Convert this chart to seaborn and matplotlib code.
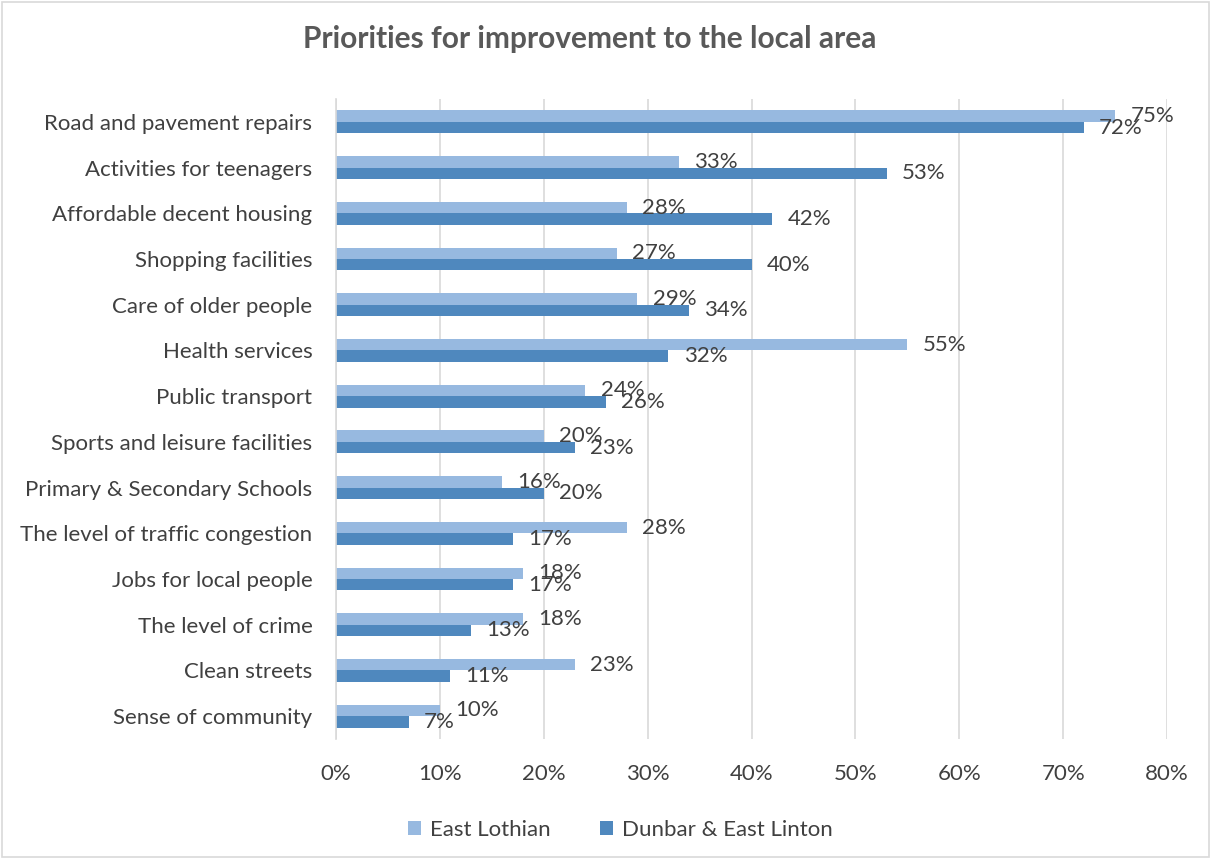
import matplotlib
matplotlib.use("Agg")
import matplotlib.pyplot as plt
import seaborn as sns
import pandas as pd

categories = [
    "Road and pavement repairs",
    "Activities for teenagers",
    "Affordable decent housing",
    "Shopping facilities",
    "Care of older people",
    "Health services",
    "Public transport",
    "Sports and leisure facilities",
    "Primary & Secondary Schools",
    "The level of traffic congestion",
    "Jobs for local people",
    "The level of crime",
    "Clean streets",
    "Sense of community",
]
east_lothian = [75, 33, 28, 27, 29, 55, 24, 20, 16, 28, 18, 18, 23, 10]
dunbar = [72, 53, 42, 40, 34, 32, 26, 23, 20, 17, 17, 13, 11, 7]
series_names = ["East Lothian", "Dunbar & East Linton"]
colors = ["#97B9E0", "#4F88BE"]
x_ticks = [0, 10, 20, 30, 40, 50, 60, 70, 80]

df = pd.DataFrame({
    "category": categories * 2,
    "value": east_lothian + dunbar,
    "series": [series_names[0]] * len(categories) + [series_names[1]] * len(categories),
})

sns.set_style("white")
plt.rcParams["font.family"] = ["Lato", "DejaVu Sans"]
text_col = "#404040"
fs = 16

fig = plt.figure(figsize=(12.11, 8.59), dpi=100)
ax = fig.add_axes([0.2775, 0.1397, 0.9637 - 0.2775, 0.8847 - 0.1397])

sns.barplot(data=df, y="category", x="value", hue="series", hue_order=series_names,
            palette=colors, orient="h", width=0.5, ax=ax, saturation=1,
            edgecolor="none", order=categories)

for cont in ax.containers:
    ax.bar_label(cont, labels=[f"{v:.0f}%" for v in cont.datavalues],
                 padding=11, fontsize=fs, color=text_col)

ax.set_xlim(0, 80)
ax.set_xticks(x_ticks)
ax.set_xticklabels([f"{t}%" for t in x_ticks], fontsize=fs, color=text_col)
ax.tick_params(axis="y", labelsize=fs, labelcolor=text_col, length=0, pad=17)
ax.tick_params(axis="x", length=0, pad=18)
ax.set_xlabel("")
ax.set_ylabel("")
ax.set_ylim(len(categories) - 0.5, -0.5)
ax.grid(axis="x", color="#D9D9D9", linewidth=1.2)
ax.set_axisbelow(True)
for s in ["top", "right", "bottom"]:
    ax.spines[s].set_visible(False)
ax.spines["left"].set_color("#D9D9D9")
ax.spines["left"].set_linewidth(1.2)

ax.legend(loc="upper center", bbox_to_anchor=(0.342, -0.095), ncol=2, frameon=False,
          fontsize=fs, labelcolor=text_col, handlelength=0.6, handleheight=0.6,
          columnspacing=2.2, handletextpad=0.4)

fig.text(0.487, 0.955, "Priorities for improvement to the local area", ha="center",
         va="center", fontsize=21.5, fontweight="bold", color="#595959")

fig.patches.append(plt.Rectangle((0.002, 0.002), 0.996, 0.996, transform=fig.transFigure,
                                 fill=False, edgecolor="#D9D9D9", linewidth=1.2))

fig.savefig("out.png", dpi=100)
